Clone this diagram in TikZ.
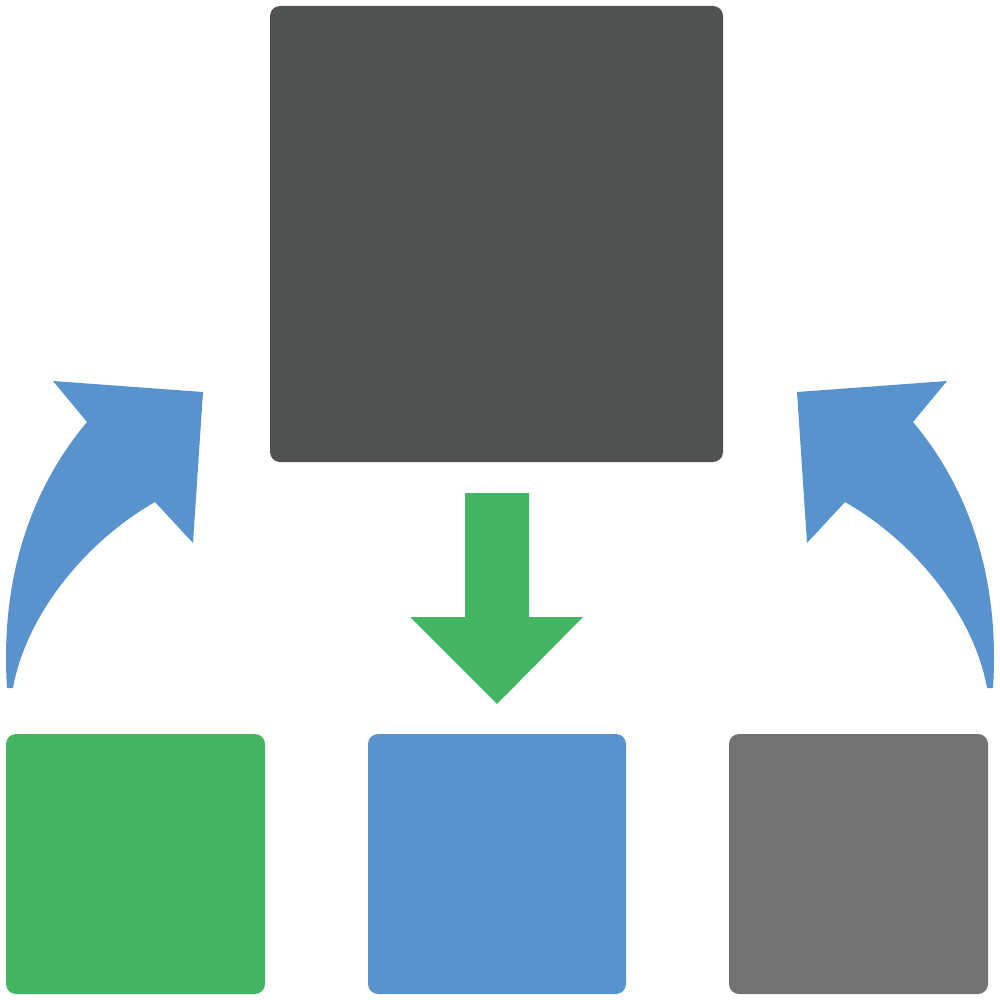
\documentclass[tikz,border=0pt]{standalone}
\usetikzlibrary{positioning}
\definecolor{darkbox}{HTML}{505251}
\definecolor{greenc}{HTML}{44B663}
\definecolor{bluec}{HTML}{5893CD}
\definecolor{grayc}{HTML}{737373}
\begin{document}
\begin{tikzpicture}[x=1pt,y=-1pt,
  box/.style={rounded corners=10pt,inner sep=0pt,draw=none},
  shape arrow/.style={draw=none}]
\useasboundingbox (0,0) rectangle (1000,1000);
% boxes
\node[box,fill=darkbox,minimum width=453pt,minimum height=456pt] (top) at (496.5,234) {};
\node[box,fill=greenc,minimum width=259pt,minimum height=260pt] (left) at (135.5,864) {};
\node[box,fill=bluec,minimum width=258pt,minimum height=260pt] (mid) at (497,864) {};
\node[box,fill=grayc,minimum width=259pt,minimum height=260pt] (right) at (858.5,864) {};
% green down arrow
\fill[greenc] (465,493) -- (529,493) -- (529,617) -- (583,617) -- (497,704) -- (410,617) -- (465,617) -- cycle;
% left curved arrow
\fill[bluec] (7,688) .. controls (0,580) and (30,490) .. (87,422)
  -- (53,381) -- (203,392) -- (193,543) -- (155,502)
  .. controls (80,545) and (25,620) .. (13,688) -- cycle;
% right curved arrow
\fill[bluec] (993,688) .. controls (1000,580) and (970,490) .. (913,422)
  -- (947,381) -- (797,392) -- (807,543) -- (845,502)
  .. controls (920,545) and (975,620) .. (987,688) -- cycle;
\end{tikzpicture}
\end{document}
